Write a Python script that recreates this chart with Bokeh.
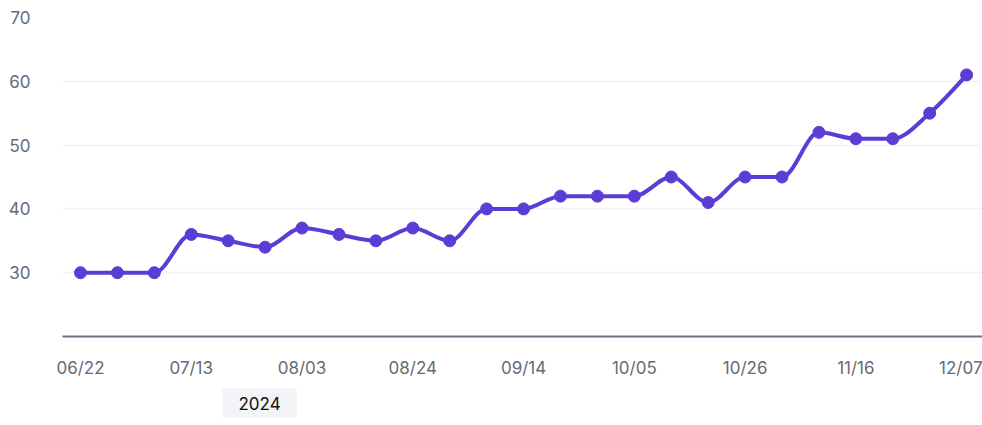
from bokeh.plotting import figure
from bokeh.models import ColumnDataSource, Title, FixedTicker, Range1d
from bokeh.embed import file_html
from bokeh.resources import INLINE
import numpy as np

dates = ["06/22", "06/29", "07/06", "07/13", "07/20", "07/27", "08/03", "08/10",
         "08/17", "08/24", "08/31", "09/07", "09/14", "09/21", "09/28", "10/05",
         "10/12", "10/19", "10/26", "11/02", "11/09", "11/16", "11/23", "11/30", "12/07"]
values = [30, 30, 30, 36, 35, 34, 37, 36, 35, 37, 35, 40, 40, 42, 42, 42,
          45, 41, 45, 45, 52, 51, 51, 55, 61]
y_ticks = [30, 40, 50, 60, 70]
year_label = "2024"

COLOR = "#5b3dd6"
FONT = "Inter"
LABEL_COLOR = "#646b78"

x = np.arange(len(values), dtype=float)
y = np.array(values, dtype=float)

# monotone cubic (as in d3.curveMonotoneX) -> bezier segments
h = np.diff(x)
s = np.diff(y) / h
m = np.zeros_like(y)
for i in range(1, len(y) - 1):
    s0, s1 = s[i - 1], s[i]
    p = (s0 * h[i] + s1 * h[i - 1]) / (h[i - 1] + h[i])
    m[i] = (np.sign(s0) + np.sign(s1)) * min(abs(s0), abs(s1), 0.5 * abs(p))
m[0] = (3 * s[0] - m[1]) / 2
m[-1] = (3 * s[-1] - m[-2]) / 2

bez = ColumnDataSource(dict(
    x0=x[:-1], y0=y[:-1], x1=x[1:], y1=y[1:],
    cx0=x[:-1] + h / 3, cy0=y[:-1] + m[:-1] * h / 3,
    cx1=x[1:] - h / 3, cy1=y[1:] - m[1:] * h / 3,
))
pts = ColumnDataSource(dict(x=x, y=y))

p = figure(width=982, height=425, output_backend="svg", toolbar_location=None,
           x_range=Range1d(-0.4875, 24.43), y_range=Range1d(20, 70),
           min_border_left=62, min_border_right=0, min_border_top=17, min_border_bottom=89)
p.outline_line_color = None
p.background_fill_color = "white"
p.border_fill_color = "white"

p.bezier(x0="x0", y0="y0", x1="x1", y1="y1", cx0="cx0", cy0="cy0", cx1="cx1", cy1="cy1",
         source=bez, line_color=COLOR, line_width=4)
p.scatter("x", "y", source=pts, size=12, fill_color=COLOR, line_color=COLOR)

p.xgrid.grid_line_color = None
p.ygrid.grid_line_color = "#f1f2f6"
p.ygrid.grid_line_width = 1.5
p.ygrid.ticker = FixedTicker(ticks=y_ticks)

p.xaxis.ticker = FixedTicker(ticks=list(range(0, len(dates), 3)))
p.xaxis.major_label_overrides = {i: dates[i] for i in range(0, len(dates), 3)}
p.xaxis.axis_line_color = "#6b7280"
p.xaxis.axis_line_width = 2
p.xaxis.major_tick_line_color = None
p.xaxis.minor_tick_line_color = None
p.xaxis.major_label_standoff = 15
p.xaxis.major_label_text_font = FONT
p.xaxis.major_label_text_font_size = "17px"
p.xaxis.major_label_text_color = LABEL_COLOR

p.yaxis.ticker = FixedTicker(ticks=y_ticks)
p.yaxis.axis_line_color = None
p.yaxis.major_tick_line_color = None
p.yaxis.minor_tick_line_color = None
p.yaxis.major_label_standoff = 26
p.yaxis.major_label_text_font = FONT
p.yaxis.major_label_text_font_size = "17px"
p.yaxis.major_label_text_color = LABEL_COLOR

year = Title(text=year_label, align="left", offset=160, standoff=12,
             text_font=FONT, text_font_size="17px", text_font_style="normal",
             text_color="#111111", background_fill_color="#f3f4f8", padding=(16, 8))
p.add_layout(year, "below")

open("out.html", "w").write(file_html(p, INLINE))
